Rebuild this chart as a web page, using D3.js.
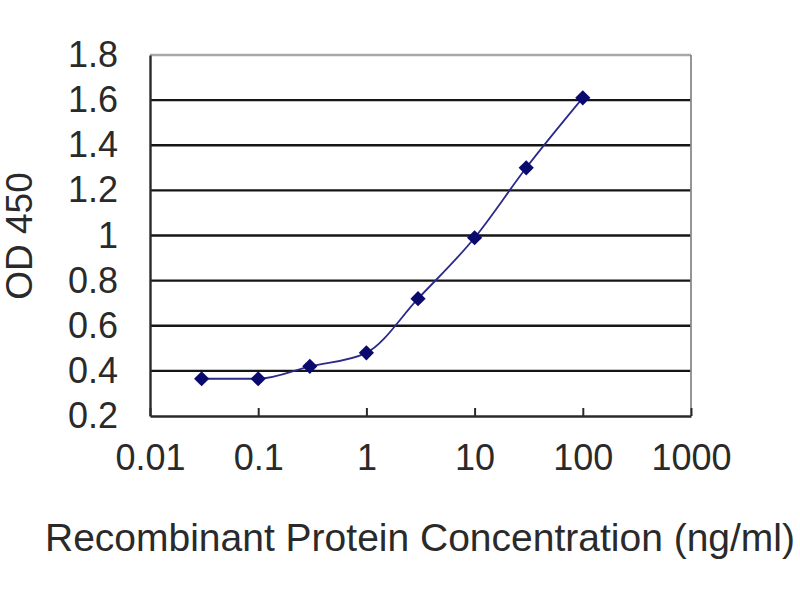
<!DOCTYPE html>
<html>
<head>
<meta charset="utf-8">
<script src="https://cdn.jsdelivr.net/npm/d3@7"></script>
<style>
  body { margin: 0; background: #fff; }
  text { font-family: "Liberation Sans", Arial, sans-serif; fill: #2a2a2a; }
</style>
</head>
<body>
<script>
// podatki odcitani iz slike
var koncentracije = [0.03, 0.1, 0.3, 1, 3, 10, 30, 100];
var od450 = [0.365, 0.365, 0.42, 0.48, 0.72, 0.99, 1.30, 1.61];
var xTicki = [0.01, 0.1, 1, 10, 100, 1000];
var xOznake = ["0.01", "0.1", "1", "10", "100", "1000"];
var yTicki = [0.2, 0.4, 0.6, 0.8, 1, 1.2, 1.4, 1.6, 1.8];
var yOznake = ["0.2", "0.4", "0.6", "0.8", "1", "1.2", "1.4", "1.6", "1.8"];

var width = 800, height = 600;
var levo = 150, desno = 691, zgoraj = 55, spodaj = 416;

var canvas = d3.select("body")
  .append("svg")
  .attr("width", width)
  .attr("height", height);

canvas.append("rect").attr("width", width).attr("height", height).attr("fill", "#fff");

var xScale = d3.scaleLog().domain([0.01, 1000]).range([levo, desno]);
var yScale = d3.scaleLinear().domain([0.2, 1.8]).range([spodaj, zgoraj]);

// mreza
canvas.append("g")
  .selectAll("line")
  .data(yTicki.filter(function(d) { return d > 0.2 && d < 1.8; }))
  .enter().append("line")
  .attr("x1", levo).attr("x2", desno)
  .attr("y1", function(d) { return yScale(d); })
  .attr("y2", function(d) { return yScale(d); })
  .attr("stroke", "#151515")
  .attr("stroke-width", 2.4);

// okvir: zgoraj in desno sivo
canvas.append("line")
  .attr("x1", levo).attr("x2", desno)
  .attr("y1", yScale(1.8)).attr("y2", yScale(1.8))
  .attr("stroke", "#a8a8a8").attr("stroke-width", 2.4);
canvas.append("line")
  .attr("x1", desno).attr("x2", desno)
  .attr("y1", yScale(1.8)).attr("y2", yScale(0.2))
  .attr("stroke", "#8a8a8a").attr("stroke-width", 1.8);

// y os
var yAxis = d3.axisLeft(yScale).tickValues(yTicki).tickSize(0).tickPadding(32)
  .tickFormat(function(d, i) { return yOznake[i]; });
var gy = canvas.append("g")
  .attr("transform", "translate(" + levo + ",0)")
  .call(yAxis);
gy.select(".domain").attr("stroke", "#2a2a2a").attr("stroke-width", 2.4);
gy.selectAll("text")
  .attr("font-size", 36)
  .style("font-family", "'Liberation Sans', Arial, sans-serif")
  .attr("fill", "#2a2a2a");

// x os, kljukice navznoter
var xAxis = d3.axisBottom(xScale).tickValues(xTicki).tickSizeInner(-8).tickSizeOuter(0).tickPadding(28)
  .tickFormat(function(d, i) { return xOznake[i]; });
var gx = canvas.append("g")
  .attr("transform", "translate(0," + spodaj + ")")
  .call(xAxis);
gx.select(".domain").attr("stroke", "#2a2a2a").attr("stroke-width", 2.4);
gx.selectAll(".tick line").attr("stroke", "#2a2a2a").attr("stroke-width", 2);
gx.selectAll("text")
  .attr("font-size", 36)
  .style("font-family", "'Liberation Sans', Arial, sans-serif")
  .attr("fill", "#2a2a2a");

// krivulja
var tocke = koncentracije.map(function(k, i) { return { k: k, v: od450[i] }; });
var line = d3.line()
  .x(function(d) { return xScale(d.k); })
  .y(function(d) { return yScale(d.v); })
  .curve(d3.curveMonotoneX);

canvas.append("path")
  .attr("d", line(tocke))
  .attr("fill", "none")
  .attr("stroke", "#2a2a8a")
  .attr("stroke-width", 1.8);

// markerji - romb
var romb = d3.symbol().type(d3.symbolSquare).size(115);
canvas.append("g")
  .selectAll("path")
  .data(tocke)
  .enter().append("path")
  .attr("d", romb)
  .attr("fill", "#0a0a6e")
  .attr("transform", function(d) {
    return "translate(" + xScale(d.k) + "," + yScale(d.v) + ") rotate(45)";
  });

// naslovi osi
canvas.append("text")
  .attr("x", 420)
  .attr("y", 551)
  .attr("text-anchor", "middle")
  .attr("font-size", 39)
  .text("Recombinant Protein Concentration (ng/ml)");

canvas.append("text")
  .attr("transform", "translate(32,236) rotate(-90)")
  .attr("text-anchor", "middle")
  .attr("font-size", 37)
  .text("OD 450");
</script>
</body>
</html>
